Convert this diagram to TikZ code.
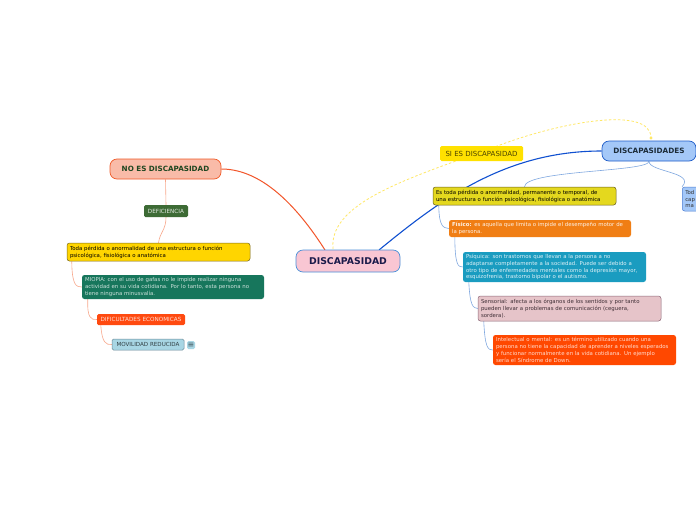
\documentclass[tikz,border=0pt]{standalone}
\usepackage{fontspec}
\setmainfont{DejaVu Sans}
\usetikzlibrary{backgrounds}
\definecolor{cNoesF}{HTML}{F9BBA8}
\definecolor{cNoesD}{HTML}{F05A28}
\definecolor{cDkGreen}{HTML}{1E4620}
\definecolor{cDefic}{HTML}{3D6B35}
\definecolor{cToda}{HTML}{FFD500}
\definecolor{cTodaD}{HTML}{7A6A20}
\definecolor{cMiop}{HTML}{17765C}
\definecolor{cDific}{HTML}{FF4A10}
\definecolor{cMovil}{HTML}{A8D6E4}
\definecolor{cMovilD}{HTML}{6A8A98}
\definecolor{cCentF}{HTML}{F9C6D3}
\definecolor{cCentD}{HTML}{4A90D9}
\definecolor{cNavy}{HTML}{1A1A4A}
\definecolor{cSies}{HTML}{FFE100}
\definecolor{cDiscF}{HTML}{A4C8F8}
\definecolor{cDiscD}{HTML}{1E5CC8}
\definecolor{cEst}{HTML}{E4D81E}
\definecolor{cEstD}{HTML}{6A6020}
\definecolor{cFis}{HTML}{F07E14}
\definecolor{cPsi}{HTML}{1A9CC0}
\definecolor{cSens}{HTML}{E6C4C9}
\definecolor{cSensD}{HTML}{8E6878}
\definecolor{cIntel}{HTML}{FF4800}
\definecolor{cSalmon}{HTML}{F8A88C}
\definecolor{cLBlue}{HTML}{80A8E0}
\definecolor{cBlue}{HTML}{1050D0}
\definecolor{cOrange}{HTML}{F2552A}
\definecolor{cDash}{HTML}{FFE866}
\tikzset{
  bx/.style={rounded corners=2.5pt, inner xsep=3pt, inner ysep=0pt, align=left,
    font=\fontsize{5.4}{6.9}\selectfont},
  tag/.style={rounded corners=1.5pt, inner sep=0pt, align=center,
    font=\fontsize{5.7}{6.5}\selectfont},
  topic/.style={rounded corners=7pt, line width=0.7pt, inner sep=0pt, align=center},
  lsal/.style={draw=cSalmon, line width=0.6pt},
  lblu/.style={draw=cLBlue, line width=0.6pt},
}
\hyphenpenalty=10000
\exhyphenpenalty=10000
\begin{document}
\begin{tikzpicture}[x=1pt,y=-1pt]
\useasboundingbox (0,0) rectangle (696,520);
\clip (0,0) rectangle (696,520);

% central
\node[topic, fill=cCentF, draw=cCentD, minimum width=104pt, minimum height=22pt,
  font=\bfseries\fontsize{9.3}{10}\selectfont, text=cNavy] (cent) at (348,261) {DISCAPASIDAD};

% left branch
\node[topic, fill=cNoesF, draw=cNoesD, minimum width=111pt, minimum height=20pt,
  font=\bfseries\fontsize{7.2}{8}\selectfont, text=cDkGreen] (noes) at (165.5,169) {NO ES DISCAPASIDAD};
\node[tag, fill=cDefic, text=white!85!cDefic, minimum width=44pt, minimum height=12pt] (defic) at (166,211) {DEFICIENCIA};
\node[bx, fill=cToda, draw=cTodaD, line width=0.5pt, text width=177pt, minimum height=18pt] (toda) at (158.5,252)
  {Toda pérdida o anormalidad de una estructura o función\\psicológica, fisiológica o anatómica};
\node[bx, fill=cMiop, text=white!78!cMiop, text width=176pt, minimum height=24pt] (miop) at (173,287)
  {MIOPIA: con el uso de gafas no le impide realizar ninguna\\actividad en su vida cotidiana. Por lo tanto, esta persona no\\tiene ninguna minusvalía.};
\node[tag, fill=cDific, text=white!82!cDific, minimum width=88pt, minimum height=11pt] (dific) at (141,319.5) {DIFICULTADES ECONOMICAS};
\node[tag, fill=cMovil, draw=cMovilD, line width=0.5pt, text=black!70!cMovil, minimum width=72pt, minimum height=11pt,
  font=\fontsize{5.6}{6.5}\selectfont] (movil) at (148,344.5) {MOVILIDAD REDUCIDA};
\node[tag, fill=cMovil, text=black!60!cMovil, minimum width=8pt, minimum height=8pt, font=\fontsize{8}{8}\selectfont] (icon) at (191,345) {≡};

% right branch
\node[topic, fill=cDiscF, draw=cDiscD, minimum width=94pt, minimum height=20pt,
  font=\bfseries\fontsize{7.3}{8}\selectfont, text=cNavy!60!cDkGreen] (disc) at (649,151) {DISCAPASIDADES};
\node[tag, fill=cSies, text=black!70!cSies, minimum width=83pt, minimum height=15pt,
  font=\fontsize{7}{8}\selectfont] (sies) at (481.5,153.5) {SI ES DISCAPASIDAD};
\node[bx, fill=cEst, draw=cEstD, line width=0.5pt, text width=177pt, minimum height=18pt] (est) at (524.5,196)
  {Es toda pérdida o anormalidad, permanente o temporal, de\\una estructura o función psicológica, fisiológica o anatómica};
\node[bx, fill=cFis, text=white!90!cFis, text width=176pt, minimum height=17pt] (fis) at (540,228.5)
  {\textbf{Físico:} es aquella que limita o impide el desempeño motor de\\la persona.};
\node[bx, fill=cPsi, text=white!85!cPsi, text width=177pt, minimum height=30pt] (psi) at (554.5,267)
  {Psíquica: son trastornos que llevan a la persona a no\\adaptarse completamente a la sociedad. Puede ser debido a\\otro tipo de enfermedades mentales como la depresión mayor,\\esquizofrenia, trastorno bipolar o el autismo.};
\node[bx, fill=cSens, draw=cSensD, line width=0.5pt, text=black!55!cSensD, text width=177pt, minimum height=25pt] (sens) at (569.5,308.5)
  {Sensorial: afecta a los órganos de los sentidos y por tanto\\pueden llevar a problemas de comunicación (ceguera,\\sordera).};
\node[bx, fill=cIntel, text=white!80!cIntel, text width=177pt, minimum height=30pt] (intel) at (584.5,350)
  {Intelectual o mental: es un término utilizado cuando una\\persona no tiene la capacidad de aprender a niveles esperados\\y funcionar normalmente en la vida cotidiana. Un ejemplo\\sería el Síndrome de Down.};
\node[bx, fill=cDiscF, draw=cDiscD!80, line width=0.5pt, text=black!80, text width=60pt, minimum height=24pt, anchor=west] (cut) at (682,199)
  {Tod\\cap\\ma};

% coordinates for connector ends
\coordinate (centL) at (325,250);
\coordinate (centR) at (379,250);
\coordinate (centY) at (333,249);
\coordinate (dashEnd) at (651,138);

\begin{pgfonlayer}{background}
\fill[white] (0,0) rectangle (696,520);
% main connectors
\draw[cOrange, line width=1pt] (centL) .. controls (290,195) and (255,169) .. (noes.east);
\draw[cBlue, line width=1.1pt] (centR) .. controls (440,200) and (505,151) .. (disc.west);
\draw[cDash, line width=0.8pt, dash pattern=on 2.5pt off 2pt]
  (centY) .. controls (328,200) and (420,175) .. (500,145)
  .. controls (560,122.5) and (651,105) .. (dashEnd);
\fill[cDash] (dashEnd) circle (1.6pt);

% left chain
\draw[lsal] (noes.south) -- (defic.north);
\draw[lsal] (defic.south) .. controls (166,230) and (160,232) .. (toda.north);
\draw[lsal] (toda.south west) ++(5,0) .. controls (72,285) and (76,287) .. (miop.west);
\draw[lsal] (miop.south west) ++(6,0) .. controls (87,318) and (91,320) .. (dific.west);
\draw[lsal] (dific.south west) ++(4,0) .. controls (102,343) and (106,345) .. (movil.west);

% right chain
\draw[lblu] (disc.south) .. controls (649,172) and (525,170) .. (est.north);
\draw[lblu] (disc.south) .. controls (649,172) and (696,172) .. (cut.north west);
\draw[lblu] (est.south west) ++(6,0) .. controls (439,226) and (443,228) .. (fis.west);
\draw[lblu] (fis.south west) ++(6,0) .. controls (455,265) and (458,267) .. (psi.west);
\draw[lblu] (psi.south west) ++(6,0) .. controls (470,306) and (473,308) .. (sens.west);
\draw[lblu] (sens.south west) ++(6,0) .. controls (485,348) and (488,350) .. (intel.west);
\end{pgfonlayer}
\end{tikzpicture}
\end{document}
